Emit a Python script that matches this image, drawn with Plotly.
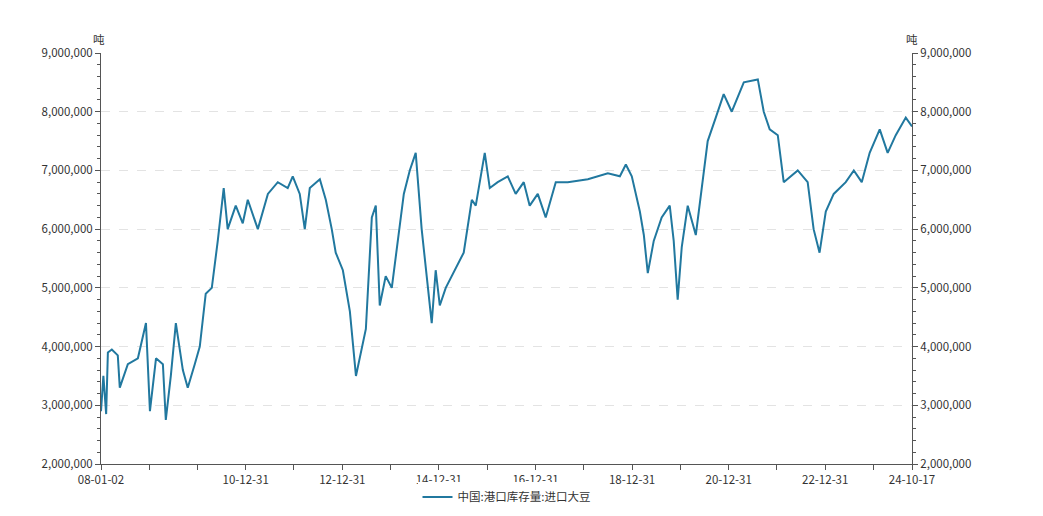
import plotly.graph_objects as go

# 中国:港口库存量:进口大豆 (吨)
dates = [
    "2008-01-02", "2008-01-20", "2008-02-10", "2008-02-23", "2008-03-24", "2008-05-08", "2008-05-23",
    "2008-07-23", "2008-10-07", "2008-12-07", "2009-01-06", "2009-02-21", "2009-04-14", "2009-05-06",
    "2009-06-13", "2009-07-21", "2009-09-12", "2009-10-19", "2009-12-11", "2010-01-18", "2010-03-04",
    "2010-04-19", "2010-06-03", "2010-07-18", "2010-08-17", "2010-10-17", "2010-12-09", "2011-01-16",
    "2011-04-02", "2011-06-17", "2011-08-31", "2011-11-14", "2011-12-22", "2012-02-13", "2012-03-22",
    "2012-04-29", "2012-07-14", "2012-08-28", "2012-10-12", "2012-11-11", "2013-01-04", "2013-02-26",
    "2013-04-13", "2013-05-28", "2013-06-27", "2013-08-11", "2013-09-10", "2013-10-10", "2013-11-24",
    "2014-01-09", "2014-02-23", "2014-04-10", "2014-05-25", "2014-07-09", "2014-08-23", "2014-09-23",
    "2014-11-07", "2014-12-07", "2015-01-07", "2015-02-21", "2015-07-07", "2015-09-06", "2015-10-06",
    "2015-12-13", "2016-01-20", "2016-03-20", "2016-06-04", "2016-08-03", "2016-10-03", "2016-11-17",
    "2017-01-17", "2017-03-18", "2017-06-02", "2017-09-01", "2018-01-31", "2018-07-01", "2018-09-30",
    "2018-11-14", "2018-12-29", "2019-02-28", "2019-03-30", "2019-04-29", "2019-06-13", "2019-08-12",
    "2019-10-12", "2019-11-11", "2019-12-11", "2020-01-11", "2020-02-25", "2020-04-26", "2020-06-10",
    "2020-07-25", "2020-09-24", "2020-11-23", "2021-01-23", "2021-04-24", "2021-08-08", "2021-09-22",
    "2021-11-06", "2022-01-06", "2022-02-20", "2022-06-06", "2022-08-20", "2022-10-04", "2022-11-18",
    "2023-01-04", "2023-03-05", "2023-06-04", "2023-08-04", "2023-10-03", "2023-12-02", "2024-02-16",
    "2024-04-16", "2024-06-16", "2024-08-31", "2024-10-17",
]
stock = [
    2.90, 3.50, 2.85, 3.90, 3.95, 3.85, 3.30, 3.70, 3.80, 4.40, 2.90, 3.80, 3.70, 2.75,
    3.50, 4.40, 3.60, 3.30, 3.70, 4.00, 4.90, 5.00, 5.80, 6.70, 6.00, 6.40, 6.10, 6.50,
    6.00, 6.60, 6.80, 6.70, 6.90, 6.60, 6.00, 6.70, 6.85, 6.50, 6.00, 5.60, 5.30, 4.60,
    3.50, 4.00, 4.30, 6.20, 6.40, 4.70, 5.20, 5.00, 5.80, 6.60, 7.00, 7.30, 6.00, 5.30,
    4.40, 5.30, 4.70, 5.00, 5.60, 6.50, 6.40, 7.30, 6.70, 6.80, 6.90, 6.60, 6.80, 6.40,
    6.60, 6.20, 6.80, 6.80, 6.85, 6.95, 6.90, 7.10, 6.90, 6.30, 5.90, 5.25, 5.80, 6.20,
    6.40, 5.80, 4.80, 5.70, 6.40, 5.90, 6.70, 7.50, 7.90, 8.30, 8.00, 8.50, 8.55, 8.00,
    7.70, 7.60, 6.80, 7.00, 6.80, 6.00, 5.60, 6.30, 6.60, 6.80, 7.00, 6.80, 7.30, 7.70,
    7.30, 7.60, 7.90, 7.75,
]
stock = [v * 1e6 for v in stock]

tick_dates = ["2008-01-02", "2008-12-31", "2009-12-31", "2010-12-31", "2011-12-31", "2012-12-31",
              "2013-12-31", "2014-12-31", "2015-12-31", "2016-12-31", "2017-12-31", "2018-12-31",
              "2019-12-31", "2020-12-31", "2021-12-31", "2022-12-31", "2023-12-31", "2024-10-17"]
tick_text = ["08-01-02", "", "", "10-12-31", "", "12-12-31", "", "14-12-31", "", "16-12-31", "",
             "18-12-31", "", "20-12-31", "", "22-12-31", "", "24-10-17"]

color = "#21789f"
font = dict(family="Noto Sans CJK SC, Noto Sans, sans-serif", size=11.5, color="#333")

fig = go.Figure()
fig.add_trace(go.Scatter(x=dates, y=stock, mode="lines", line=dict(color=color, width=2),
                         name="中国:港口库存量:进口大豆"))
fig.add_trace(go.Scatter(x=dates, y=stock, mode="lines", line=dict(color="rgba(0,0,0,0)"),
                         yaxis="y2", showlegend=False, hoverinfo="skip"))

yax = dict(range=[2e6, 9e6], tickvals=[i * 1e6 for i in range(2, 10)], tickformat=",",
           showline=True, linecolor="#555", ticks="outside", ticklen=5, tickcolor="#555",
           minor=dict(ticks="outside", ticklen=3, tickcolor="#555", dtick=200000),
           zeroline=False, tickfont=font, automargin=False)
fig.update_layout(
    width=1043, height=516, plot_bgcolor="white", paper_bgcolor="white",
    margin=dict(l=93, r=139, t=45, b=38),
    xaxis=dict(type="date", range=["2008-01-02", "2024-10-17"], tickvals=tick_dates, ticktext=tick_text,
               showline=True, linecolor="#555", ticks="outside", ticklen=5, tickcolor="#555",
               showgrid=False, tickfont=font, automargin=False),
    yaxis=dict(**yax, showgrid=True, gridcolor="#e3e3e3", griddash="dash"),
    yaxis2=dict(**yax, overlaying="y", side="right", showgrid=False),
    legend=dict(orientation="h", x=0.5, xanchor="center", y=-0.045, yanchor="top", font=font),
    annotations=[
        dict(text="吨", xref="paper", yref="paper", x=0, y=1, xanchor="center", yanchor="bottom",
             xshift=-2, yshift=4, showarrow=False, font=font),
        dict(text="吨", xref="paper", yref="paper", x=1, y=1, xanchor="center", yanchor="bottom",
             xshift=0, yshift=4, showarrow=False, font=font),
    ],
)
fig.write_html("out.html")
